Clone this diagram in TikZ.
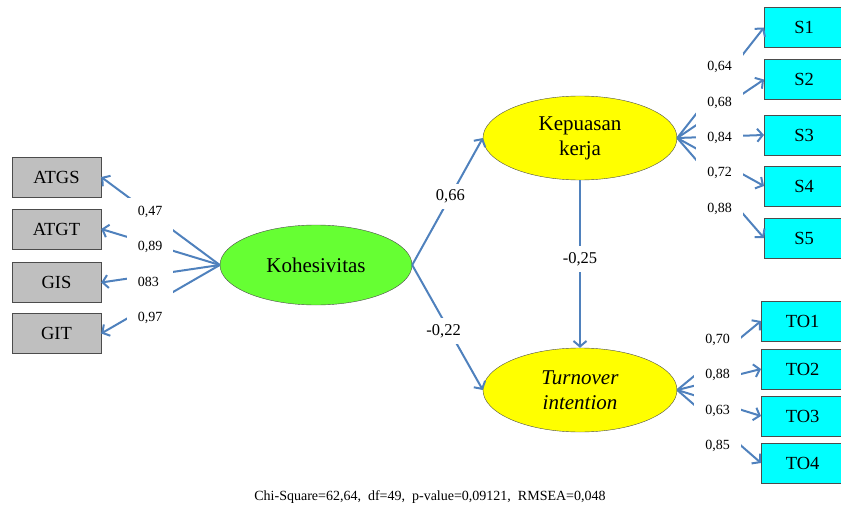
\documentclass[tikz,border=0pt]{standalone}
\usepackage{fontspec}
\setmainfont{Liberation Serif}
\usetikzlibrary{arrows.meta,shapes.geometric}
\definecolor{arrowblue}{HTML}{4F81BD}
\definecolor{kohgreen}{HTML}{66FF33}
\definecolor{boxgray}{HTML}{BFBFBF}
\definecolor{boxcyan}{HTML}{00FFFF}
\definecolor{latyellow}{HTML}{FFFF00}
\begin{document}
\begin{tikzpicture}[x=1pt,y=-1pt,
	effect/.style={draw=arrowblue, line width=2pt, -{Straight Barb[length=5.5pt,width=13pt]}},
	latent/.style={ellipse, draw=black!70, minimum width=194pt, minimum height=84pt, inner sep=0pt, align=center, font=\fontsize{21}{25}\selectfont},
	indicator/.style={draw=black!70, minimum height=40pt, inner sep=0pt, font=\fontsize{18.5}{22}\selectfont},
	loading/.style={fill=white, align=left, inner xsep=11pt, inner ysep=8pt, font=\fontsize{14}{35.4}\selectfont},
	coef/.style={fill=white, inner sep=6pt, font=\fontsize{16.5}{20}\selectfont}]

	\useasboundingbox (0,0) rectangle (841,508);

	% latent variables
	\node[latent, fill=kohgreen, minimum width=192pt, minimum height=80pt] (koh) at (316,265) {Kohesivitas};
	\node[latent, fill=latyellow] (kep) at (580,138) {Kepuasan\\kerja};
	\node[latent, fill=latyellow] (ti) at (580,390) {\textit{Turnover}\\\textit{intention}};

	% indicators
	\node[indicator, fill=boxgray, minimum width=89pt] (atgs) at (56.5,177) {ATGS};
	\node[indicator, fill=boxgray, minimum width=89pt] (atgt) at (56.5,229) {ATGT};
	\node[indicator, fill=boxgray, minimum width=89pt] (gis) at (56.5,282.5) {GIS};
	\node[indicator, fill=boxgray, minimum width=89pt] (git) at (56.5,333.5) {GIT};

	\node[indicator, fill=boxcyan, minimum width=80pt, anchor=west] (s1) at (764,27.5) {S1\hspace{3pt}};
	\node[indicator, fill=boxcyan, minimum width=80pt, anchor=west] (s2) at (764,79.5) {S2\hspace{3pt}};
	\node[indicator, fill=boxcyan, minimum width=80pt, anchor=west] (s3) at (764,135) {S3\hspace{3pt}};
	\node[indicator, fill=boxcyan, minimum width=80pt, anchor=west] (s4) at (764,186) {S4\hspace{3pt}};
	\node[indicator, fill=boxcyan, minimum width=80pt, anchor=west] (s5) at (764,238) {S5\hspace{3pt}};

	\node[indicator, fill=boxcyan, minimum width=83pt, anchor=west] (to1) at (761,321) {TO1\hspace{3pt}};
	\node[indicator, fill=boxcyan, minimum width=83pt, anchor=west] (to2) at (761,369) {TO2\hspace{3pt}};
	\node[indicator, fill=boxcyan, minimum width=83pt, anchor=west] (to3) at (761,416) {TO3\hspace{3pt}};
	\node[indicator, fill=boxcyan, minimum width=83pt, anchor=west] (to4) at (761,463) {TO4\hspace{3pt}};

	% measurement paths
	\draw[effect] (koh.west) -- (atgs.east);
	\draw[effect] (koh.west) -- (atgt.east);
	\draw[effect] (koh.west) -- (gis.east);
	\draw[effect] (koh.west) -- (git.east);

	\draw[effect] (kep.east) -- (s1.west);
	\draw[effect] (kep.east) -- (s2.west);
	\draw[effect] (kep.east) -- (s3.west);
	\draw[effect] (kep.east) -- (s4.west);
	\draw[effect] (kep.east) -- (s5.west);

	\draw[effect] (ti.east) -- (to1.west);
	\draw[effect] (ti.east) -- (to2.west);
	\draw[effect] (ti.east) -- (to3.west);
	\draw[effect] (ti.east) -- (to4.west);

	% loadings
	\node[loading] (lkoh) at (150,265) {0,47\\0,89\\083\\0,97};
	\node[loading] (lkep) at (719.5,138) {0,64\\0,68\\0,84\\0,72\\0,88};
	\node[loading] (lti) at (717.5,393) {0,70\\0,88\\0,63\\0,85};

	% structural paths
	\draw[effect] (koh.east) -- node[coef, pos=0.54] (c1) {0,66} (kep.west);
	\draw[effect] (koh.east) -- node[coef, pos=0.53, xshift=-6pt] (c2) {-0,22} (ti.west);
	\draw[effect] (kep.south) -- node[coef, pos=0.47] (c3) {-0,25} (ti.north);

	\node[font=\fontsize{14}{16}\selectfont] (gof) at (430,497) {Chi-Square=62,64,\ \ df=49,\ \ p-value=0,09121,\ \ RMSEA=0,048};

\end{tikzpicture}
\end{document}
